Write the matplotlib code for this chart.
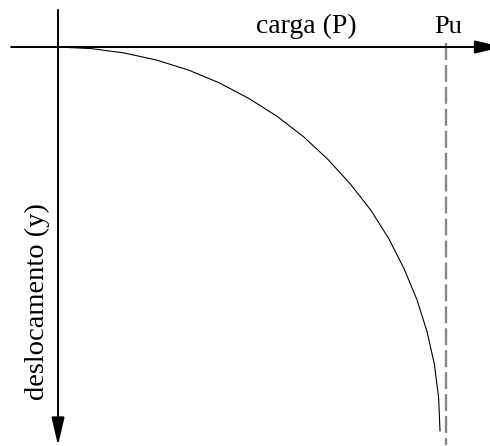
import matplotlib.pyplot as plt

# load as a fraction of Pu, displacement normalised to the axis length
carga = [0.0, 0.086, 0.171, 0.255, 0.337, 0.416, 0.492, 0.565, 0.633,
         0.696, 0.754, 0.807, 0.853, 0.892, 0.925, 0.951, 0.970, 0.981,
         0.9845]
deslocamento = [0.0, 0.004, 0.015, 0.033, 0.058, 0.090, 0.129, 0.174,
                0.225, 0.282, 0.344, 0.410, 0.481, 0.556, 0.633, 0.713,
                0.795, 0.879, 0.962]
pu = 1.0

plt.rcParams['font.family'] = ['Liberation Serif', 'DejaVu Serif']

fig = plt.figure(figsize=(4.9, 4.46), dpi=100)
ax = fig.add_axes([0, 0, 1, 1])
ax.set_xlim(-0.1495, 1.1134)
ax.set_ylim(1.0, -0.1178)
ax.axis('off')

# axes drawn as arrows
arrow = dict(arrowstyle='-|>,head_length=1.7,head_width=0.4',
             mutation_scale=10, lw=1.4, color='black',
             shrinkA=0, shrinkB=0)
ax.annotate('', xy=(1.146, 0), xytext=(-0.121, 0), arrowprops=arrow,
            annotation_clip=False)
ax.annotate('', xy=(0, 0.998), xytext=(0, -0.093), arrowprops=arrow,
            annotation_clip=False)

# ultimate load
line, = ax.plot([pu, pu], [-0.01, 0.998], color='#858585', lw=1.7)
line.set_dashes((12.2 / 1.7, 3.6 / 1.7))

ax.plot(carga, deslocamento, color='black', lw=0.8)

ax.text(0.639, -0.035, 'carga (P)', fontsize=20, ha='center', va='baseline')
ax.text(1.005, -0.035, 'Pu', fontsize=19, ha='center', va='baseline')
ax.text(-0.052, 0.637, 'deslocamento (y)', fontsize=20.5, rotation=90,
        ha='center', va='center')

fig.savefig('out.png', dpi=100)
